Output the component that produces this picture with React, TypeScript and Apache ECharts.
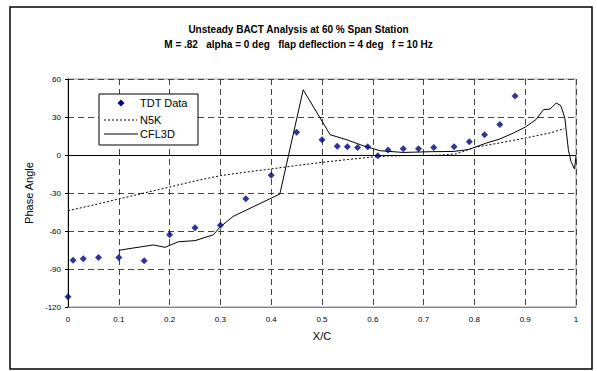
import React, { useEffect, useRef } from "react";
import * as echarts from "echarts";

// Measured phase angle (TDT wind tunnel)
const tdtX = [0, 0.01, 0.03, 0.06, 0.1, 0.15, 0.2, 0.25, 0.3, 0.35, 0.4, 0.45, 0.5, 0.53, 0.55, 0.57, 0.59, 0.61, 0.63, 0.66, 0.69, 0.72, 0.76, 0.79, 0.82, 0.85, 0.88];
const tdtY = [-112, -83, -82, -81, -81, -83.5, -63, -57.5, -55.5, -34.5, -16, 18, 12, 7, 6.5, 6, 6.5, -0.5, 4, 5, 5, 6, 6.5, 10.5, 16, 24, 46.5];

// N5K prediction
const n5kX = [0, 0.05, 0.1, 0.15, 0.2, 0.25, 0.3, 0.35, 0.4, 0.45, 0.5, 0.55, 0.6, 0.63, 0.66, 0.69, 0.72, 0.745, 0.765, 0.8, 0.85, 0.9, 0.95, 0.977];
const n5kY = [-44, -39.5, -34.7, -30, -25.3, -20.5, -16.3, -13.5, -11, -8.3, -5.8, -3.6, -1.6, -0.8, -0.5, -0.4, -0.3, 0.2, 1.0, 6.0, 9.5, 13.4, 17.5, 20.8];

// CFL3D prediction
const cflX = [0.1, 0.116, 0.168, 0.191, 0.217, 0.25, 0.286, 0.299, 0.325, 0.417, 0.463, 0.516, 0.549, 0.581, 0.614, 0.66, 0.713, 0.758, 0.788, 0.824, 0.85, 0.877, 0.9, 0.921, 0.936, 0.949, 0.961, 0.97, 0.978, 0.985, 0.99, 0.997, 1.0];
const cflY = [-75.3, -74.2, -71, -72.9, -68.5, -67.6, -63, -57, -48.5, -30.8, 51.5, 16, 12, 7.3, 3.4, 2.0, 2.6, 2.8, 4.2, 9.5, 12.6, 17.4, 22, 27.9, 35.8, 36.3, 41, 39.1, 29.2, 4.2, -5, -11, -1];

const seriesNames = ["TDT Data", "N5K", "CFL3D"];

const titleLines = [
  "Unsteady BACT Analysis at 60 % Span Station",
  "M = .82   alpha = 0 deg   flap deflection = 4 deg   f = 10 Hz",
];

const FONT = "Liberation Sans, Arial, sans-serif";
const NAVY = "#000080";

const zip = (xs: number[], ys: number[]) => xs.map((x, i) => [x, ys[i]]);

// Boxed key in the upper-left corner of the plot, drawn above the grid lines
function legendElements() {
  const bx = 99;
  const by = 94;
  const rows = [103, 120, 134];
  const textX = 140;
  const cx = 121;
  const z = 100;
  return [
    {
      type: "rect",
      z,
      silent: true,
      shape: { x: bx, y: by, width: 99, height: 51 },
      style: { fill: "#fff", stroke: "#000", lineWidth: 1 },
    },
    {
      type: "polygon",
      z: z + 1,
      silent: true,
      shape: { points: [[cx, rows[0] - 3.5], [cx + 3.5, rows[0]], [cx, rows[0] + 3.5], [cx - 3.5, rows[0]]] },
      style: { fill: NAVY },
    },
    {
      type: "line",
      z: z + 1,
      silent: true,
      shape: { x1: 104, y1: rows[1], x2: 137, y2: rows[1] },
      style: { stroke: "#000", lineWidth: 1, lineDash: [2, 2] },
    },
    {
      type: "line",
      z: z + 1,
      silent: true,
      shape: { x1: 104, y1: rows[2], x2: 138, y2: rows[2] },
      style: { stroke: "#000", lineWidth: 1 },
    },
    ...seriesNames.map((name, i) => ({
      type: "text",
      z: z + 1,
      silent: true,
      x: textX,
      y: rows[i],
      style: { text: name, fontSize: 11, fontFamily: FONT, fill: "#000", verticalAlign: "middle" },
    })),
  ];
}

export default function App() {
  const ref = useRef<HTMLDivElement>(null);

  useEffect(() => {
    document.body.style.margin = "0";
    if (!ref.current) return;
    const chart = echarts.init(ref.current, null, { renderer: "svg" });
    chart.setOption({
      animation: false,
      backgroundColor: "#fff",
      textStyle: { fontFamily: FONT },
      title: {
        text: titleLines.join("\n"),
        left: "center",
        top: 17,
        textStyle: { fontSize: 10, fontWeight: "bold", lineHeight: 15, color: "#000", fontFamily: FONT },
      },
      graphic: [
        {
          type: "rect",
          shape: { x: 10, y: 7, width: 582, height: 362 },
          style: { fill: "none", stroke: "#000", lineWidth: 1.5 },
          silent: true,
        },
        ...legendElements(),
      ],
      grid: {
        left: 68,
        right: 21,
        top: 79,
        bottom: 64,
        show: true,
        borderColor: "#999",
        borderWidth: 1,
      },
      xAxis: {
        type: "value",
        min: 0,
        max: 1,
        interval: 0.1,
        name: "X/C",
        nameLocation: "middle",
        nameGap: 23,
        nameTextStyle: { fontSize: 11, color: "#000", fontFamily: FONT },
        axisLine: { onZero: false, lineStyle: { color: "#808080", width: 1 } },
        axisTick: { show: false },
        axisLabel: { fontSize: 8, color: "#000", margin: 8, fontFamily: FONT },
        splitLine: { show: true, lineStyle: { color: "#444", type: [6, 4], width: 1 } },
      },
      yAxis: {
        type: "value",
        min: -120,
        max: 60,
        interval: 30,
        name: "Phase Angle",
        nameLocation: "middle",
        nameGap: 31,
        nameTextStyle: { fontSize: 11, color: "#000", fontFamily: FONT },
        axisLine: { show: true, onZero: false, lineStyle: { color: "#000", width: 1 } },
        axisTick: { show: true, inside: false, length: 3, lineStyle: { color: "#000" } },
        axisLabel: { fontSize: 8, color: "#000", margin: 7, fontFamily: FONT },
        splitLine: { show: true, lineStyle: { color: "#444", type: [6, 4], width: 1 } },
      },
      series: [
        {
          name: seriesNames[0],
          type: "scatter",
          symbol: "diamond",
          symbolSize: 7,
          itemStyle: { color: NAVY },
          data: zip(tdtX, tdtY),
          z: 5,
        },
        {
          name: seriesNames[1],
          type: "line",
          symbol: "none",
          lineStyle: { color: "#000", width: 1, type: [2, 2] },
          data: zip(n5kX, n5kY),
          z: 3,
        },
        {
          name: seriesNames[2],
          type: "line",
          symbol: "none",
          lineStyle: { color: "#000", width: 1 },
          data: zip(cflX, cflY),
          z: 4,
          markLine: {
            silent: true,
            symbol: "none",
            label: { show: false },
            lineStyle: { color: "#000", type: "solid", width: 1 },
            data: [{ yAxis: 0 }],
          },
        },
      ],
    });
    return () => chart.dispose();
  }, []);

  return <div ref={ref} style={{ width: 597, height: 371 }} />;
}
